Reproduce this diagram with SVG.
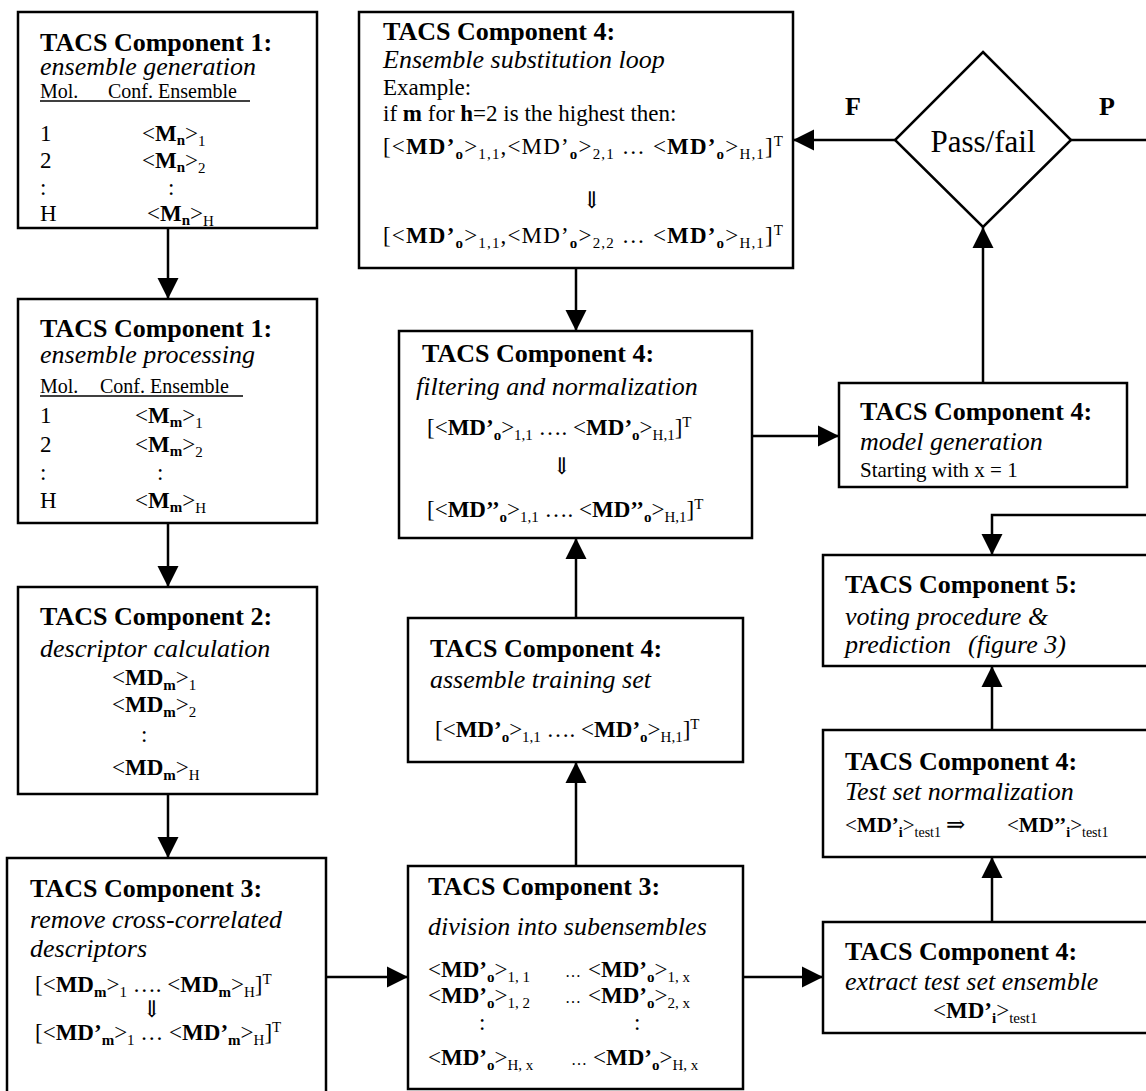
<svg xmlns="http://www.w3.org/2000/svg" width="1146" height="1091" viewBox="0 0 1146 1091">
<style>
.box{fill:#fff;stroke:#000;stroke-width:2.5}
text{font-family:"Liberation Serif","Times New Roman","DejaVu Serif",serif;fill:#000}
.t{font-size:26px;font-weight:bold}
.i{font-size:26px;font-style:italic}
.b{font-size:23px}
.m{font-size:20px}
.bd{font-weight:bold}
.s{font-size:15px}
.e{font-size:16px}
.c{stroke:#000;stroke-width:2.5;fill:none}
.u{stroke:#000;stroke-width:1.5}
</style>
<defs>
<marker id="ah" viewBox="0 0 10 10" refX="10" refY="5" markerUnits="userSpaceOnUse" markerWidth="21" markerHeight="23" orient="auto">
<path d="M0,0 L10,5 L0,10 z" fill="#000"/>
</marker>
</defs>
<rect width="1146" height="1091" fill="#fff"/>

<g id="connectors">
<line class="c" x1="168" y1="228" x2="168" y2="299" marker-end="url(#ah)"/>
<line class="c" x1="168" y1="523" x2="168" y2="587" marker-end="url(#ah)"/>
<line class="c" x1="168" y1="794" x2="168" y2="858" marker-end="url(#ah)"/>
<line class="c" x1="326" y1="977" x2="408" y2="977" marker-end="url(#ah)"/>
<line class="c" x1="576" y1="866" x2="576" y2="762" marker-end="url(#ah)"/>
<line class="c" x1="576" y1="618" x2="576" y2="538" marker-end="url(#ah)"/>
<line class="c" x1="576" y1="268" x2="576" y2="331" marker-end="url(#ah)"/>
<line class="c" x1="752" y1="436" x2="839" y2="436" marker-end="url(#ah)"/>
<line class="c" x1="983" y1="383" x2="983" y2="227" marker-end="url(#ah)"/>
<line class="c" x1="895" y1="140" x2="793" y2="140" marker-end="url(#ah)"/>
<path class="c" d="M1071,140 H1170 V515 H992 V555" marker-end="url(#ah)"/>
<line class="c" x1="992" y1="730" x2="992" y2="666" marker-end="url(#ah)"/>
<line class="c" x1="992" y1="922" x2="992" y2="857" marker-end="url(#ah)"/>
<line class="c" x1="743" y1="977" x2="823" y2="977" marker-end="url(#ah)"/>
<text class="t" x="845" y="115">F</text>
<text class="t" x="1099" y="115">P</text>
</g>

<g id="n1">
<rect class="box" x="18" y="12" width="299" height="216"/>
<text class="t" x="40" y="51">TACS Component 1:</text>
<text class="i" x="40" y="75">ensemble generation</text>
<text class="m" x="40" y="98">Mol.</text>
<text class="m" x="108" y="98">Conf. Ensemble</text>
<line class="u" x1="40" y1="101" x2="250" y2="101"/>
<text class="b" x="40" y="141">1</text>
<text class="b" x="142" y="141">&lt;<tspan class="bd">M</tspan><tspan class="s bd" dy="4">n</tspan><tspan dy="-4">&gt;</tspan><tspan class="s" dy="5">1</tspan></text>
<text class="b" x="40" y="168">2</text>
<text class="b" x="142" y="168">&lt;<tspan class="bd">M</tspan><tspan class="s bd" dy="4">n</tspan><tspan dy="-4">&gt;</tspan><tspan class="s" dy="5">2</tspan></text>
<text class="b" x="40" y="195">:</text>
<text class="b" x="168" y="195">:</text>
<text class="b" x="40" y="221">H</text>
<text class="b" x="147" y="221">&lt;<tspan class="bd">M</tspan><tspan class="s bd" dy="4">n</tspan><tspan dy="-4">&gt;</tspan><tspan class="s" dy="5">H</tspan></text>
</g>

<g id="n2">
<rect class="box" x="18" y="299" width="299" height="224"/>
<text class="t" x="40" y="337">TACS Component 1:</text>
<text class="i" x="40" y="363">ensemble processing</text>
<text class="m" x="40" y="393">Mol.</text>
<text class="m" x="100" y="393">Conf. Ensemble</text>
<line class="u" x1="40" y1="396" x2="243" y2="396"/>
<text class="b" x="40" y="423">1</text>
<text class="b" x="135" y="423">&lt;<tspan class="bd">M</tspan><tspan class="s bd" dy="4">m</tspan><tspan dy="-4">&gt;</tspan><tspan class="s" dy="5">1</tspan></text>
<text class="b" x="40" y="452">2</text>
<text class="b" x="135" y="452">&lt;<tspan class="bd">M</tspan><tspan class="s bd" dy="4">m</tspan><tspan dy="-4">&gt;</tspan><tspan class="s" dy="5">2</tspan></text>
<text class="b" x="40" y="480">:</text>
<text class="b" x="157" y="480">:</text>
<text class="b" x="40" y="508">H</text>
<text class="b" x="135" y="508">&lt;<tspan class="bd">M</tspan><tspan class="s bd" dy="4">m</tspan><tspan dy="-4">&gt;</tspan><tspan class="s" dy="5">H</tspan></text>
</g>

<g id="n3">
<rect class="box" x="18" y="587" width="299" height="207"/>
<text class="t" x="40" y="625">TACS Component 2:</text>
<text class="i" x="40" y="657">descriptor calculation</text>
<text class="b" x="112" y="685">&lt;<tspan class="bd">MD</tspan><tspan class="s bd" dy="5">m</tspan><tspan dy="-5">&gt;</tspan><tspan class="s" dy="5">1</tspan></text>
<text class="b" x="112" y="712">&lt;<tspan class="bd">MD</tspan><tspan class="s bd" dy="5">m</tspan><tspan dy="-5">&gt;</tspan><tspan class="s" dy="5">2</tspan></text>
<text class="b" x="141" y="742">:</text>
<text class="b" x="112" y="775">&lt;<tspan class="bd">MD</tspan><tspan class="s bd" dy="5">m</tspan><tspan dy="-5">&gt;</tspan><tspan class="s" dy="5">H</tspan></text>
</g>

<g id="n4">
<rect class="box" x="7" y="858" width="319" height="240"/>
<text class="t" x="30" y="897">TACS Component 3:</text>
<text class="i" x="30" y="928">remove cross-correlated</text>
<text class="i" x="30" y="957">descriptors</text>
<text class="b" x="35" y="992">[&lt;<tspan class="bd">MD</tspan><tspan class="s bd" dy="5">m</tspan><tspan dy="-5">&gt;</tspan><tspan class="s" dy="5">1</tspan><tspan dy="-5"> …. &lt;</tspan><tspan class="bd">MD</tspan><tspan class="s bd" dy="5">m</tspan><tspan dy="-5">&gt;</tspan><tspan class="s" dy="5">H</tspan><tspan dy="-5">]</tspan><tspan class="s" dy="-8">T</tspan></text>
<text class="b" x="142" y="1017">⇓</text>
<text class="b" x="35" y="1040">[&lt;<tspan class="bd">MD’</tspan><tspan class="s bd" dy="5">m</tspan><tspan dy="-5">&gt;</tspan><tspan class="s" dy="5">1</tspan><tspan dy="-5"> … &lt;</tspan><tspan class="bd">MD’</tspan><tspan class="s bd" dy="5">m</tspan><tspan dy="-5">&gt;</tspan><tspan class="s" dy="5">H</tspan><tspan dy="-5">]</tspan><tspan class="s" dy="-8">T</tspan></text>
</g>

<g id="n5">
<rect class="box" x="359" y="12" width="434" height="256"/>
<text class="t" x="383" y="40">TACS Component 4:</text>
<text class="i" x="383" y="68">Ensemble substitution loop</text>
<text class="b" x="383" y="95">Example:</text>
<text class="b" x="383" y="121">if <tspan class="bd">m</tspan> for <tspan class="bd">h</tspan>=2 is the highest then:</text>
<text class="b" x="383" y="154" textLength="400" lengthAdjust="spacing">[&lt;<tspan class="bd">MD’</tspan><tspan class="s bd" dy="5">o</tspan><tspan dy="-5">&gt;</tspan><tspan class="s" dy="5">1,1</tspan><tspan dy="-5">,&lt;MD’</tspan><tspan class="s bd" dy="5">o</tspan><tspan dy="-5">&gt;</tspan><tspan class="s" dy="5">2,1</tspan><tspan dy="-5"> … &lt;</tspan><tspan class="bd">MD’</tspan><tspan class="s bd" dy="5">o</tspan><tspan dy="-5">&gt;</tspan><tspan class="s" dy="5">H,1</tspan><tspan dy="-5">]</tspan><tspan class="s" dy="-8">T</tspan></text>
<text class="b" x="582" y="208">⇓</text>
<text class="b" x="383" y="243" textLength="400" lengthAdjust="spacing">[&lt;<tspan class="bd">MD’</tspan><tspan class="s bd" dy="5">o</tspan><tspan dy="-5">&gt;</tspan><tspan class="s" dy="5">1,1</tspan><tspan dy="-5">,&lt;MD’</tspan><tspan class="s bd" dy="5">o</tspan><tspan dy="-5">&gt;</tspan><tspan class="s" dy="5">2,2</tspan><tspan dy="-5"> … &lt;</tspan><tspan class="bd">MD’</tspan><tspan class="s bd" dy="5">o</tspan><tspan dy="-5">&gt;</tspan><tspan class="s" dy="5">H,1</tspan><tspan dy="-5">]</tspan><tspan class="s" dy="-8">T</tspan></text>
</g>

<g id="n6">
<rect class="box" x="399" y="331" width="353" height="207"/>
<text class="t" x="422" y="362">TACS Component 4:</text>
<text class="i" x="416" y="395">filtering and normalization</text>
<text class="b" x="427" y="435">[&lt;<tspan class="bd">MD’</tspan><tspan class="s bd" dy="5">o</tspan><tspan dy="-5">&gt;</tspan><tspan class="s" dy="5">1,1</tspan><tspan dy="-5"> …. &lt;</tspan><tspan class="bd">MD’</tspan><tspan class="s bd" dy="5">o</tspan><tspan dy="-5">&gt;</tspan><tspan class="s" dy="5">H,1</tspan><tspan dy="-5">]</tspan><tspan class="s" dy="-8">T</tspan></text>
<text class="b" x="552" y="474">⇓</text>
<text class="b" x="427" y="517">[&lt;<tspan class="bd">MD’’</tspan><tspan class="s bd" dy="5">o</tspan><tspan dy="-5">&gt;</tspan><tspan class="s" dy="5">1,1</tspan><tspan dy="-5"> …. &lt;</tspan><tspan class="bd">MD’’</tspan><tspan class="s bd" dy="5">o</tspan><tspan dy="-5">&gt;</tspan><tspan class="s" dy="5">H,1</tspan><tspan dy="-5">]</tspan><tspan class="s" dy="-8">T</tspan></text>
</g>

<g id="n7">
<rect class="box" x="408" y="618" width="335" height="144"/>
<text class="t" x="430" y="657">TACS Component 4:</text>
<text class="i" x="430" y="688">assemble training set</text>
<text class="b" x="435" y="737">[&lt;<tspan class="bd">MD’</tspan><tspan class="s bd" dy="5">o</tspan><tspan dy="-5">&gt;</tspan><tspan class="s" dy="5">1,1</tspan><tspan dy="-5"> …. &lt;</tspan><tspan class="bd">MD’</tspan><tspan class="s bd" dy="5">o</tspan><tspan dy="-5">&gt;</tspan><tspan class="s" dy="5">H,1</tspan><tspan dy="-5">]</tspan><tspan class="s" dy="-8">T</tspan></text>
</g>

<g id="n8">
<rect class="box" x="408" y="866" width="335" height="223"/>
<text class="t" x="428" y="895">TACS Component 3:</text>
<text class="i" x="428" y="935">division into subensembles</text>
<text class="b" x="428" y="977">&lt;<tspan class="bd">MD’</tspan><tspan class="s bd" dy="5">o</tspan><tspan dy="-5">&gt;</tspan><tspan class="s" dy="5">1, 1</tspan></text>
<text class="e" x="565" y="977">…</text>
<text class="b" x="588" y="977">&lt;<tspan class="bd">MD’</tspan><tspan class="s bd" dy="5">o</tspan><tspan dy="-5">&gt;</tspan><tspan class="s" dy="5">1, x</tspan></text>
<text class="b" x="428" y="1003">&lt;<tspan class="bd">MD’</tspan><tspan class="s bd" dy="5">o</tspan><tspan dy="-5">&gt;</tspan><tspan class="s" dy="5">1, 2</tspan></text>
<text class="e" x="565" y="1003">…</text>
<text class="b" x="588" y="1003">&lt;<tspan class="bd">MD’</tspan><tspan class="s bd" dy="5">o</tspan><tspan dy="-5">&gt;</tspan><tspan class="s" dy="5">2, x</tspan></text>
<text class="b" x="479" y="1030">:</text>
<text class="b" x="634" y="1030">:</text>
<text class="b" x="428" y="1065">&lt;<tspan class="bd">MD’</tspan><tspan class="s bd" dy="5">o</tspan><tspan dy="-5">&gt;</tspan><tspan class="s" dy="5">H, x</tspan></text>
<text class="e" x="571" y="1065">…</text>
<text class="b" x="593" y="1065">&lt;<tspan class="bd">MD’</tspan><tspan class="s bd" dy="5">o</tspan><tspan dy="-5">&gt;</tspan><tspan class="s" dy="5">H, x</tspan></text>
</g>

<g id="n9">
<polygon points="983,52 1071,140 983,227 895,140" fill="#fff" stroke="#000" stroke-width="2.5"/>
<text x="983" y="152" font-size="31" text-anchor="middle">Pass/fail</text>
</g>

<g id="n10">
<rect class="box" x="839" y="383" width="288" height="104"/>
<text class="t" x="860" y="420">TACS Component 4:</text>
<text class="i" x="860" y="450">model generation</text>
<text x="860" y="477" font-size="21">Starting with x = 1</text>
</g>

<g id="n11">
<rect class="box" x="823" y="555" width="340" height="111"/>
<text class="t" x="845" y="593">TACS Component 5:</text>
<text class="i" x="845" y="625">voting procedure &amp;</text>
<text class="i" x="845" y="653">prediction</text>
<text class="i" x="968" y="653" font-size="22">(figure 3)</text>
</g>

<g id="n12">
<rect class="box" x="823" y="730" width="340" height="127"/>
<text class="t" x="845" y="770">TACS Component 4:</text>
<text class="i" x="845" y="800">Test set normalization</text>
<text x="845" y="832" font-size="21">&lt;<tspan class="bd">MD’</tspan><tspan class="bd" font-size="14" dy="5">i</tspan><tspan dy="-5">&gt;</tspan><tspan font-size="14" dy="5">test1</tspan></text>
<text class="b" x="946" y="832">⇒</text>
<text x="1007" y="832" font-size="21">&lt;<tspan class="bd">MD’’</tspan><tspan class="bd" font-size="14" dy="5">i</tspan><tspan dy="-5">&gt;</tspan><tspan font-size="14" dy="5">test1</tspan></text>
</g>

<g id="n13">
<rect class="box" x="823" y="922" width="340" height="111"/>
<text class="t" x="845" y="960">TACS Component 4:</text>
<text class="i" x="845" y="990">extract test set ensemble</text>
<text class="b" x="933" y="1018">&lt;<tspan class="bd">MD’</tspan><tspan class="s bd" dy="5">i</tspan><tspan dy="-5">&gt;</tspan><tspan class="s" dy="5">test1</tspan></text>
</g>
</svg>
